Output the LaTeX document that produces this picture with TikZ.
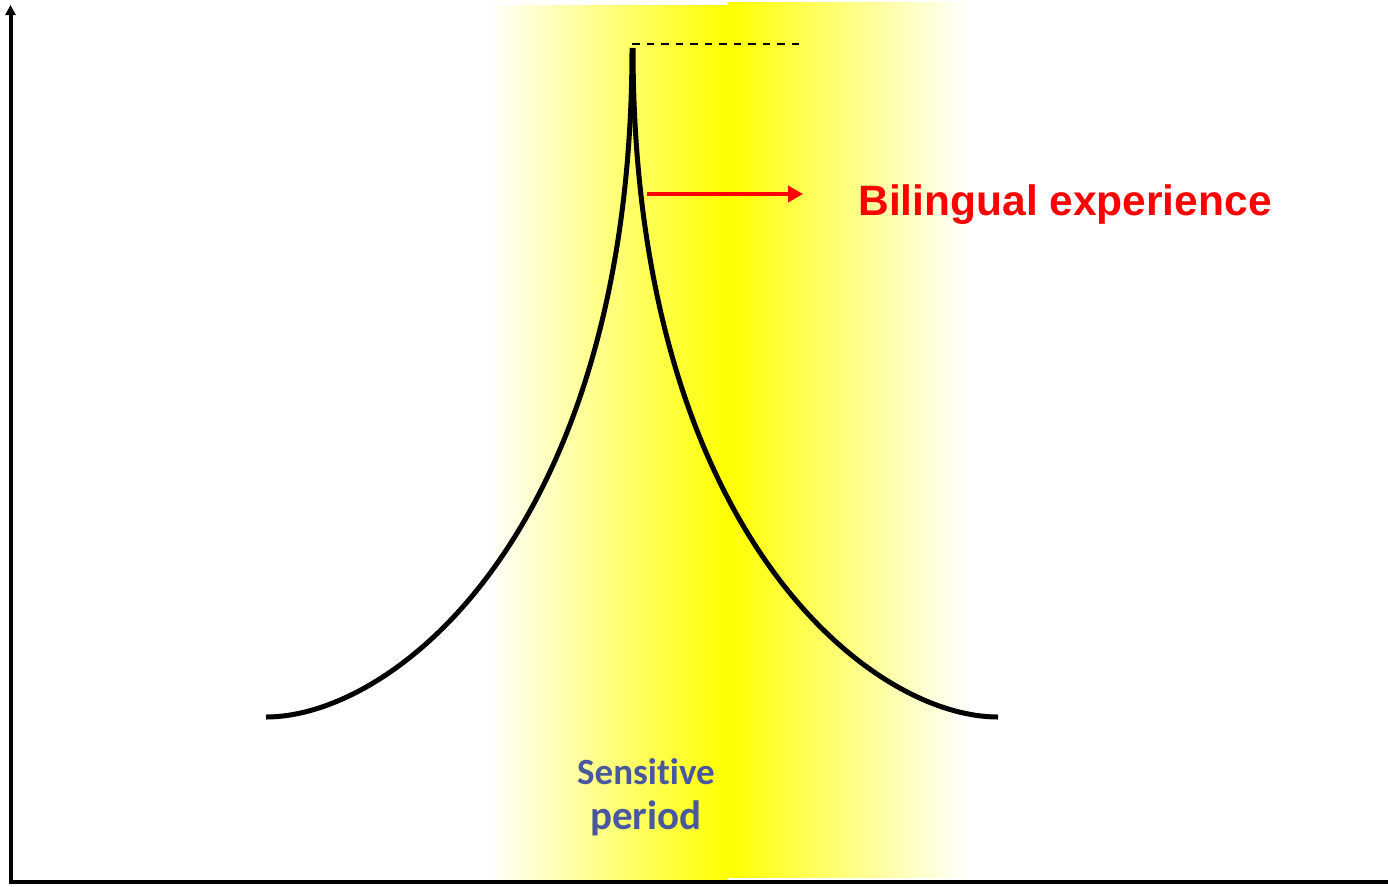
\documentclass[tikz,border=0pt]{standalone}
\usepackage{fontspec}
\setmainfont{Liberation Sans}
\newfontfamily\carlito[Ligatures=NoCommon]{Carlito}
\usetikzlibrary{arrows.meta}
\definecolor{spblue}{RGB}{72,88,158}
\tikzset{
  axisline/.style={line width=4pt, black},
  curveline/.style={line width=5pt, black, line cap=butt},
  redarrow/.style={line width=4pt, red, -{Triangle[length=15pt,width=16pt]}},
  dashline/.style={line width=2pt, black, dash pattern=on 7.5pt off 7pt},
}
\begin{document}
\begin{tikzpicture}[x=1pt,y=-1pt]
\useasboundingbox (0,0) rectangle (1388,886);
% sensitive period band
\shade[left color=white, right color=yellow] (488,5) rectangle (728,880);
\shade[left color=yellow, right color=white] (728,2) rectangle (968,877);
% axes
\coordinate (origin) at (10.5,882);
\coordinate (ytop) at (10.5,5);
\coordinate (xend) at (1388,882);
\draw[axisline, -{Triangle[length=10pt,width=10pt]}] (10.5,884) -- (ytop);
\draw[axisline] (8.5,882) -- (xend);
% curve
\coordinate (lstart) at (266,717);
\coordinate (peakL) at (632,48);
\coordinate (peakR) at (633,48);
\coordinate (rend) at (998,717);
\draw[curveline] (lstart) .. controls (396,717) and (632,528) .. (peakL);
\draw[curveline] (peakR) .. controls (633,528) and (868,717) .. (rend);
% dashed peak line
\coordinate (dashS) at (632,44);
\coordinate (dashE) at (802,44);
\draw[dashline] (dashS) -- (dashE);
% red arrow
\coordinate (arrS) at (647,194);
\coordinate (arrE) at (803,194);
\draw[redarrow] (arrS) -- (arrE);
% labels
\node[anchor=base, text=red, inner sep=0pt, font=\bfseries\fontsize{42.5}{50}\selectfont] (bil) at (1065,215) {Bilingual experience};
\node[anchor=base, text=spblue, inner sep=0pt, font=\carlito\bfseries\fontsize{37}{44}\selectfont] (sens) at (646,784) {Sensitive};
\node[anchor=base, text=spblue, inner sep=0pt, font=\carlito\bfseries\fontsize{41}{48}\selectfont] (per) at (646,829) {period};
\end{tikzpicture}
\end{document}
